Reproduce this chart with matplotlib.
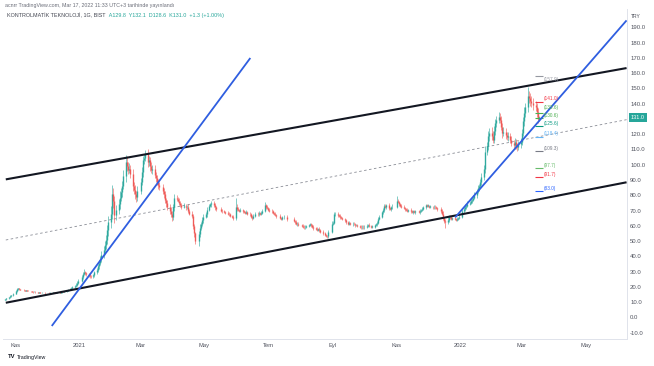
import numpy as np
import pandas as pd
import matplotlib
matplotlib.use("Agg")
import matplotlib.pyplot as plt
import matplotlib.dates as mdates
import matplotlib.transforms as mtrans
from matplotlib.text import Annotation

plt.rcParams['font.family'] = ['Liberation Sans', 'DejaVu Sans']

# ---------------- data ----------------
closes = [
    # Oct 2020
    11.8, 12.4, 13.2, 13.9, 14.5, 15.6,
    # Nov 2020
    17.2, 18.6, 19.0, 18.4, 18.1, 17.9, 17.6, 17.8, 17.4, 17.2, 17.0, 16.9, 16.6, 16.8, 16.5, 16.3, 16.4, 16.1, 16.0, 16.2, 15.9,
    # Dec 2020
    16.0, 16.1, 15.9, 16.2, 16.3, 16.1, 16.4, 16.2, 16.5, 16.3, 16.6, 16.8, 16.7, 17.2, 17.6, 18.1, 18.5, 19.2, 19.8, 20.3, 21.5, 22.8, 24.0,
    # Jan 2021
    26.5, 28.4, 29.7, 29.0, 28.2, 27.5, 27.0, 26.8, 27.6, 29.5, 31.2, 33.4, 35.8, 38.0, 41.0, 44.2, 47.5, 51.0, 57.0, 62.5,
    # Feb 2021
    68.0, 80.5, 76.0, 67.0, 70.5, 74.0, 78.5, 82.0, 86.0, 92.5, 101.5, 99.0, 96.5, 97.5, 94.0, 86.0, 83.5, 80.5, 79.0, 83.0,
    # Mar 2021
    88.5, 95.0, 103.0, 104.5, 107.0, 101.5, 103.0, 99.0, 96.5, 97.5, 93.0, 91.0, 88.5, 86.5, 85.5, 83.0, 81.0, 77.0, 75.0, 72.5, 70.0, 67.5, 65.5,
    # Apr 2021
    72.0, 78.0, 77.5, 76.5, 75.0, 73.5, 72.5, 73.0, 72.0, 72.5, 70.0, 68.0, 66.5, 60.0, 55.0, 50.0, 54.5, 58.5, 61.0, 63.5, 66.0,
    # May 2021
    67.5, 70.5, 73.0, 74.0, 75.0, 73.5, 72.0, 71.0, 70.0, 69.5, 69.0, 68.5, 68.0, 67.5, 66.5, 66.0, 65.0, 72.5,
    # Jun 2021
    71.0, 70.5, 70.0, 70.5, 69.5, 69.0, 68.5, 69.0, 68.0, 67.5, 66.0, 65.0, 66.5, 68.0, 67.5, 68.5, 68.0, 68.5, 70.0, 73.5, 72.5, 71.5,
    # Jul 2021
    70.5, 70.0, 69.5, 68.5, 68.0, 67.0, 66.5, 65.0, 64.5, 65.5, 66.0, 64.5, 63.0, 62.5, 61.0, 61.5, 60.5,
    # Aug 2021
    60.0, 59.5, 59.0, 59.5, 60.0, 60.5, 61.0, 60.5, 59.5, 58.5, 58.0, 57.5, 58.0, 57.0, 56.0, 55.0, 54.0, 53.5, 53.0, 56.0, 61.5,
    # Sep 2021
    62.0, 67.5, 68.0, 67.0, 66.5, 65.5, 65.0, 64.5, 63.5, 62.5, 61.5, 62.0, 61.0, 61.5, 61.0, 60.5, 60.5, 60.0, 59.5, 59.0, 59.5, 59.0,
    # Oct 2021
    59.5, 60.0, 60.5, 60.0, 59.5, 59.5, 60.5, 61.0, 62.0, 64.5, 66.0, 69.0, 70.5, 73.0, 72.5, 73.5, 71.5, 71.0, 72.0, 72.5,
    # Nov 2021
    76.5, 75.5, 74.0, 73.0, 72.5, 71.5, 71.0, 70.5, 70.0, 70.5, 69.5, 69.0, 69.5, 69.0, 69.5, 69.0, 70.0, 70.5, 71.0, 72.0, 73.5, 73.0,
    # Dec 2021
    73.0, 72.5, 72.5, 72.0, 72.5, 72.0, 71.5, 71.0, 69.5, 68.0, 65.0, 63.0, 62.5, 64.0, 66.0, 65.5, 64.5, 65.0, 64.5, 64.0, 64.5, 65.0, 66.0,
    # Jan 2022
    69.5, 71.0, 72.5, 73.0, 74.5, 75.0, 76.0, 77.0, 78.5, 80.0, 82.5, 84.5, 86.0, 88.5, 92.0, 97.0, 108.5, 112.0, 118.5, 121.0, 119.0,
    # Feb 2022
    116.5, 122.0, 127.0, 129.5, 131.5, 129.0, 125.0, 120.5, 121.5, 119.5, 118.0, 119.0, 116.5, 114.5, 113.0, 115.0, 112.0, 111.5, 113.5, 115.0,
    # Mar 2022
    121.0, 128.5, 134.0, 137.5, 145.0, 144.0, 141.5, 140.5, 139.0, 138.0, 134.5, 129.7, 131.0,
]
first_open = 11.4

hi_wick = [
    0.3, 0.4, 0.2, 0.5, 0.3, 0.4,
    0.6, 0.8, 0.5, 0.3, 0.4, 0.2, 0.3, 0.4, 0.2, 0.3, 0.2, 0.3, 0.2, 0.4, 0.2, 0.3, 0.2, 0.3, 0.2, 0.4, 0.2,
    0.3, 0.2, 0.3, 0.2, 0.3, 0.2, 0.3, 0.2, 0.3, 0.2, 0.3, 0.4, 0.3, 0.4, 0.5, 0.4, 0.6, 0.5, 0.7, 0.8, 0.9, 1.0, 1.2,
    1.5, 1.2, 1.8, 1.0, 0.9, 1.2, 0.8, 0.7, 1.0, 1.2, 1.4, 1.6, 1.5, 2.0, 2.2, 2.5, 2.4, 3.0, 3.5, 4.0,
    5.0, 6.5, 4.0, 3.5, 3.0, 3.5, 4.0, 3.0, 3.5, 4.0, 5.0, 4.5, 3.0, 3.5, 2.5, 3.0, 2.5, 3.0, 2.5, 3.0,
    3.0, 3.5, 3.0, 2.5, 2.5, 3.0, 2.5, 2.0, 2.5, 2.0, 2.5, 2.0, 2.5, 2.0, 2.5, 2.0, 1.5, 2.0, 1.5, 2.0, 1.5, 2.0, 2.5,
    2.0, 2.5, 2.0, 1.5, 2.0, 1.5, 1.5, 2.0, 1.5, 1.0, 1.5, 1.0, 1.5, 1.0, 1.5, 1.0, 2.0, 2.5, 1.5, 2.0, 1.5,
    1.5, 2.0, 1.5, 1.0, 1.5, 1.0, 1.5, 1.0, 1.0, 0.8, 1.0, 0.8, 1.0, 0.8, 1.0, 0.8, 1.0, 6.0,
    1.5, 1.0, 0.8, 1.0, 0.8, 1.0, 0.8, 1.2, 0.8, 1.0, 0.8, 1.0, 1.2, 1.0, 0.8, 1.0, 0.8, 1.0, 1.2, 2.0, 1.0, 0.8,
    0.8, 1.0, 0.7, 1.1, 0.8, 1.0, 0.9, 1.0, 0.8, 1.2, 1.0, 0.8, 1.0, 0.7, 1.0, 0.8, 1.1,
    0.8, 1.0, 0.7, 1.1, 0.8, 1.0, 0.9, 1.0, 0.8, 1.0, 0.7, 1.0, 0.8, 1.1, 0.8, 1.0, 0.8, 0.9, 0.8, 1.2, 1.5,
    1.0, 1.5, 1.2, 1.0, 0.8, 1.1, 0.8, 1.0, 0.9, 1.0, 0.8, 1.0, 0.7, 1.0, 0.8, 1.1, 0.8, 1.0, 0.7, 1.0, 0.8, 1.0,
    0.8, 1.0, 0.7, 1.1, 0.8, 1.0, 0.8, 1.0, 0.9, 1.0, 1.2, 1.0, 1.2, 1.0, 1.5, 1.0, 1.2, 1.0, 0.8, 1.5,
    3.0, 1.2, 1.0, 0.8, 1.1, 0.8, 1.0, 0.7, 1.0, 0.8, 1.0, 0.9, 1.0, 0.8, 1.0, 0.7, 1.0, 0.8, 1.1, 1.2, 1.0, 0.8,
    1.0, 0.8, 1.0, 0.7, 1.0, 0.8, 1.1, 0.8, 1.0, 1.2, 1.5, 1.0, 1.2, 1.5, 1.0, 1.2, 1.0, 0.8, 1.0, 0.8, 1.0, 0.8, 1.2,
    1.5, 1.2, 1.5, 1.2, 1.5, 1.2, 1.5, 1.2, 1.5, 2.0, 1.5, 2.0, 1.5, 2.0, 2.5, 3.0, 3.5, 3.0, 3.5, 3.0, 3.5,
    3.0, 3.5, 3.0, 2.5, 3.0, 2.5, 3.0, 2.5, 3.0, 2.5, 2.0, 2.5, 2.0, 2.5, 2.0, 2.5, 2.0, 2.5, 2.0, 2.5,
    2.5, 3.0, 3.5, 3.0, 6.0, 3.5, 3.0, 3.5, 3.0, 2.5, 2.5, 2.5, 1.1,
]
lo_wick = [
    0.2, 0.3, 0.4, 0.2, 0.3, 0.2,
    0.3, 0.4, 0.5, 0.3, 0.2, 0.3, 0.2, 0.3, 0.4, 0.2, 0.3, 0.2, 0.3, 0.2, 0.3, 0.2, 0.3, 0.2, 0.3, 0.2, 0.3,
    0.2, 0.3, 0.2, 0.3, 0.2, 0.3, 0.2, 0.3, 0.2, 0.3, 0.2, 0.3, 0.2, 0.3, 0.4, 0.3, 0.4, 0.5, 0.4, 0.6, 0.5, 0.7, 0.8,
    1.0, 1.2, 0.9, 1.1, 1.0, 0.8, 0.9, 1.0, 0.7, 1.1, 1.0, 1.2, 1.4, 1.5, 1.8, 2.0, 2.2, 2.4, 3.0, 3.5,
    4.0, 3.5, 4.5, 5.0, 3.0, 2.5, 3.0, 2.5, 3.0, 2.0, 3.5, 3.0, 2.5, 2.0, 3.0, 3.5, 2.5, 3.0, 3.5, 2.5,
    2.5, 2.0, 3.0, 2.5, 2.0, 3.0, 2.5, 3.0, 2.0, 2.5, 2.0, 2.5, 2.0, 2.5, 2.0, 2.0, 2.5, 2.0, 2.5, 2.0, 2.5, 2.0, 2.5,
    1.5, 2.0, 1.5, 1.0, 1.5, 1.0, 1.5, 1.0, 1.5, 1.0, 1.5, 1.0, 1.5, 2.0, 2.5, 2.0, 3.0, 2.0, 1.5, 1.0, 1.5,
    1.0, 1.5, 1.0, 1.0, 1.5, 1.0, 1.5, 1.0, 0.8, 1.0, 0.8, 1.0, 0.8, 1.0, 0.8, 1.0, 1.0, 1.0,
    1.0, 0.8, 1.0, 0.8, 1.0, 0.8, 1.0, 0.8, 1.0, 0.8, 1.2, 1.0, 0.8, 1.0, 0.8, 1.0, 0.8, 1.0, 0.8, 1.0, 1.2, 0.8,
    1.0, 0.8, 1.0, 0.7, 1.0, 0.8, 1.1, 0.8, 1.0, 0.8, 1.0, 1.2, 0.8, 1.0, 0.8, 1.0, 0.8,
    0.8, 1.0, 0.8, 0.9, 0.8, 1.0, 0.7, 1.0, 0.8, 1.0, 0.8, 1.1, 0.8, 1.0, 0.8, 1.0, 0.8, 1.0, 1.2, 0.8, 1.0,
    1.0, 1.0, 0.8, 1.0, 0.8, 1.0, 0.7, 1.0, 0.8, 1.1, 0.8, 1.0, 0.8, 1.0, 0.7, 1.0, 0.8, 1.0, 0.8, 1.1, 0.8, 1.0,
    1.0, 0.8, 1.0, 0.8, 1.1, 0.8, 1.0, 0.7, 1.0, 0.8, 1.0, 0.8, 1.0, 1.2, 1.0, 1.2, 1.0, 0.8, 1.0, 0.8,
    1.0, 0.8, 1.0, 0.7, 1.0, 0.8, 1.1, 0.8, 1.0, 0.8, 1.0, 0.8, 1.0, 0.9, 1.0, 0.8, 1.0, 0.8, 1.0, 0.8, 1.0, 0.8,
    0.8, 1.0, 0.8, 1.0, 0.8, 1.0, 0.8, 1.0, 1.2, 1.0, 1.5, 1.2, 4.0, 1.5, 1.2, 1.0, 0.8, 1.0, 0.8, 1.0, 0.8, 1.0, 0.8,
    1.0, 1.2, 1.0, 1.2, 1.0, 1.2, 1.0, 1.2, 1.0, 1.2, 1.5, 1.2, 1.5, 1.2, 1.5, 2.0, 2.5, 2.0, 2.5, 3.0, 2.5,
    2.5, 2.0, 2.5, 2.0, 2.5, 2.0, 2.5, 3.0, 2.0, 2.5, 2.0, 2.5, 2.0, 2.5, 2.0, 2.5, 2.0, 2.5, 2.0, 2.5,
    2.0, 2.5, 3.0, 2.5, 3.0, 3.5, 3.0, 2.5, 3.0, 2.5, 3.0, 2.5, 1.2,
]

bist_holidays = ["2020-10-29", "2021-01-01", "2021-04-23", "2021-05-13", "2021-05-14",
                 "2021-05-19", "2021-07-15", "2021-07-20", "2021-07-21", "2021-07-22",
                 "2021-07-23", "2021-08-30", "2021-10-29"]
last_day = "2022-03-17"

price_ticks = list(range(-10, 200, 10))
month_ticks = ["2020-11-01", "2021-01-01", "2021-03-01", "2021-05-01", "2021-07-01",
               "2021-09-01", "2021-11-01", "2022-01-01", "2022-03-01", "2022-05-01"]
month_labels = ["Kas", "2021", "Mar", "May", "Tem", "Eyl", "Kas", "2022", "Mar", "May"]

# drawn lines: (dates, prices)
channel_upper = (["2020-10-23", "2022-06-09"], [90.4, 163.3])
channel_mid = (["2020-10-23", "2022-06-09"], [50.7, 129.5])
channel_lower = (["2020-10-23", "2022-06-09"], [9.6, 88.5])
trend_1 = (["2020-12-06", "2021-06-14"], [-5.6, 169.9])
trend_2 = (["2021-12-27", "2022-06-09"], [65.5, 194.5])

levels = [157.9, 141.0, 133.6, 130.6, 125.6, 118.4, 109.3, 97.7, 91.7, 83.0]
level_colors = ["#9598a1", "#f23645", "#4caf50", "#4caf50", "#089981",
                "#64b5f6", "#787b86", "#66bb6a", "#f23645", "#2962ff"]
# vertical nudge of each label text, in pixels (negative = up)
level_text_dy = [3.5, -4.0, -5.5, -2.5, -2.5, -3.5, -2.0, -2.5, -2.5, -2.5]

header = "acnrr TradingView.com, Mar 17, 2022 11:33 UTC+3 tarihinde yayınlandı"
symbol_name = "KONTROLMATİK TEKNOLOJİ, 1G, BIST"
ohlc_text = "A129.8  Y132.1  D128.6  K131.0  +1.3 (+1.00%)"

# ---------------- figure ----------------
W, H = 654, 366
fig = plt.figure(figsize=(W / 100, H / 100), dpi=100)
fig.patch.set_facecolor("white")
ax = fig.add_axes([3 / W, 27 / H, 624 / W, 330 / H])

n = min(len(closes), len(hi_wick), len(lo_wick))
closes_a = np.array(closes[:n])
opens_a = np.array([first_open] + closes[:n - 1])
highs_a = np.maximum(opens_a, closes_a) + np.array(hi_wick[:n])
lows_a = np.minimum(opens_a, closes_a) - np.array(lo_wick[:n])
cbd = pd.offsets.CustomBusinessDay(holidays=bist_holidays)
dates = pd.date_range(end=last_day, periods=n, freq=cbd)
xd = mdates.date2num(dates.to_pydatetime())

up, dn = "#26a69a", "#ef5350"
cols = [up if c >= o else dn for o, c in zip(opens_a, closes_a)]
ax.vlines(xd, lows_a, highs_a, colors=cols, lw=0.45, zorder=3, alpha=0.9)
body_lo = np.minimum(opens_a, closes_a)
body_hi = np.maximum(np.maximum(opens_a, closes_a), body_lo + 0.3)
ax.vlines(xd, body_lo, body_hi, colors=cols, lw=1.0, zorder=3, alpha=0.9)


def draw_line(spec, **kw):
    d, p = spec
    ax.plot(mdates.date2num(pd.to_datetime(d).to_pydatetime()), p, **kw)


draw_line(channel_upper, color="#131722", lw=1.5, zorder=4, solid_capstyle="butt")
draw_line(channel_lower, color="#131722", lw=1.5, zorder=4, solid_capstyle="butt")
draw_line(channel_mid, color="#8a8d96", lw=0.6, ls=(0, (3, 3)), zorder=2)
draw_line(trend_1, color="#2f5ee0", lw=1.3, zorder=5, solid_capstyle="butt")
draw_line(trend_2, color="#2f5ee0", lw=1.3, zorder=5, solid_capstyle="butt")

# price level labels
seg0 = mdates.date2num(pd.Timestamp("2022-03-13").to_pydatetime())
seg1 = mdates.date2num(pd.Timestamp("2022-03-21").to_pydatetime())
txt_x = mdates.date2num(pd.Timestamp("2022-03-22").to_pydatetime())
for lv, lc, dy in zip(levels, level_colors, level_text_dy):
    ax.hlines(lv, seg0, seg1, colors=lc, lw=0.8, zorder=3)
    ax.annotate(f"({lv:.1f})", xy=(txt_x, lv), xytext=(0, -dy * 0.72), textcoords="offset points",
                color=lc, fontsize=3.4, va="center", ha="left", zorder=6)

# axes limits, scales
x_left = mdates.date2num(pd.Timestamp("2020-10-20 08:00").to_pydatetime())
x_right = mdates.date2num(pd.Timestamp("2022-06-09 10:00").to_pydatetime())
ax.set_xlim(x_left, x_right)
ax.set_ylim(-14.13, 201.98)

last_close = closes_a[-1]
ax.yaxis.tick_right()
ax.set_yticks(price_ticks)
ax.set_yticklabels(["" if abs(v - last_close) < 5 else f"{v:.1f}" for v in price_ticks])
ax.set_xticks(mdates.date2num(pd.to_datetime(month_ticks).to_pydatetime()))
ax.set_xticklabels(month_labels)
ax.tick_params(axis="y", length=0, pad=2.2, labelsize=4.3, labelcolor="#50535e")
ax.tick_params(axis="x", length=0, pad=3.0, labelsize=4.2, labelcolor="#50535e")
for s in ["top", "left"]:
    ax.spines[s].set_visible(False)
for s in ["right", "bottom"]:
    ax.spines[s].set_color("#e0e3eb")
    ax.spines[s].set_linewidth(0.7)
ax.grid(False)

# last price badge
bt = mtrans.blended_transform_factory(ax.transAxes, ax.transData)
ax.text(1.0 + 11 / 624, last_close, f"{last_close:.1f}", transform=bt, ha="center", va="center",
        fontsize=4.0, color="white", zorder=10, clip_on=False,
        bbox=dict(boxstyle="square,pad=0.35", fc="#26a69a", ec="none"))

# header texts
fig.text(5 / W, 1 - 5 / H, header, fontsize=3.8, color="#6a6d78", va="center", ha="left")
t1 = fig.text(7 / W, 1 - 16 / H, symbol_name, fontsize=3.9, color="#434651", va="center", ha="left")
ann = Annotation("  " + ohlc_text, xy=(1, 0.5), xycoords=t1, va="center", ha="left",
                 fontsize=3.9, color="#26a69a")
ann.set_figure(fig)
fig.texts.append(ann)
fig.text(636 / W, 1 - 16 / H, "TRY", fontsize=3.6, color="#50535e", va="center", ha="center")

# TradingView logo
fig.text(8 / W, 1 - 357 / H, "TV", fontsize=4.2, fontweight="bold", color="#131722", va="center", ha="left")
fig.text(17 / W, 1 - 357 / H, "TradingView", fontsize=3.8, color="#131722", va="center", ha="left")

fig.savefig("out.png", dpi=100, facecolor="white")
